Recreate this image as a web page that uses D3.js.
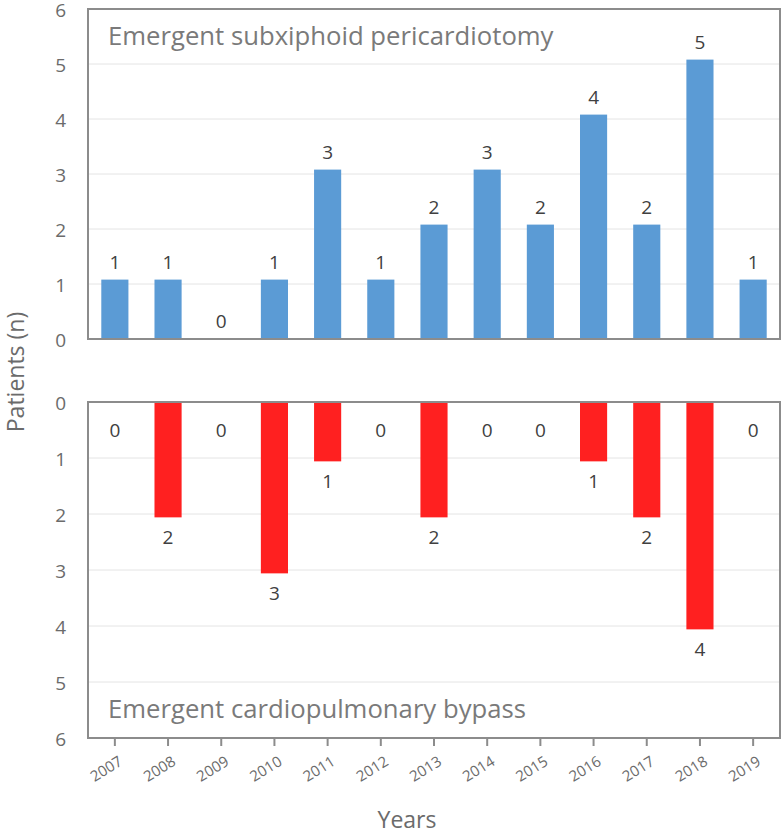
<!DOCTYPE html>
<html><head><meta charset="utf-8">
<script src="https://cdn.jsdelivr.net/npm/d3@7"></script>
<style>body{margin:0;background:#fff}text{font-family:"Open Sans",sans-serif}</style>
</head><body><svg id="c" width="784" height="834"></svg>
<script>
const years = ["2007","2008","2009","2010","2011","2012","2013","2014","2015","2016","2017","2018","2019"];
const topCounts = [1,1,0,1,3,1,2,3,2,4,2,5,1];
const topBars = [1.08,1.08,0,1.08,3.08,1.08,2.08,3.08,2.08,4.08,2.08,5.08,1.08];
const bottomCounts = [0,2,0,3,1,0,2,0,0,1,2,4,0];
const bottomBars = [0,2.06,0,3.06,1.06,0,2.06,0,0,1.06,2.06,4.06,0];
const yTicks = [0,1,2,3,4,5,6];
const topTitle = "Emergent subxiphoid pericardiotomy";
const bottomTitle = "Emergent cardiopulmonary bypass";

const svg = d3.select("#c");
const L = 88, R = 780;
const x = d3.scaleBand().domain(years).range([L, R]).paddingInner(0.49).paddingOuter(0.25);
const yTop = d3.scaleLinear().domain([0,6]).range([339, 9]);
const yBot = d3.scaleLinear().domain([0,6]).range([402, 738]);
const axisCol = "#8c8c8c", gridCol = "#e4e4e4", txtCol = "#6b6b6b", lblCol = "#404040";

function panel(y, counts, bars, color, up, title, titleY) {
  const g = svg.append("g");
  g.selectAll("line.grid").data(yTicks.slice(1,6)).join("line")
    .attr("x1", L).attr("x2", R).attr("y1", d => y(d)).attr("y2", d => y(d))
    .attr("stroke", gridCol).attr("stroke-width", 1);
  g.selectAll("rect.bar").data(years.map((yr,i)=>({yr, v:bars[i], c:counts[i]}))).join("rect")
    .attr("x", d => x(d.yr)).attr("width", x.bandwidth())
    .attr("y", d => Math.min(y(0), y(d.v))).attr("height", d => Math.abs(y(d.v)-y(0)))
    .attr("fill", color);
  g.selectAll("text.lbl").data(years.map((yr,i)=>({yr, v:bars[i], c:counts[i]}))).join("text")
    .attr("x", d => x(d.yr) + x.bandwidth()/2)
    .attr("y", d => up ? y(d.v) - 11 : y(d.v) + (d.v===0 ? 35 : 27))
    .attr("text-anchor","middle").attr("font-size", 19).attr("fill", lblCol)
    .text(d => d.c);
  const [y0, y1] = [y.range()[0], y.range()[1]];
  g.append("rect").attr("x", L).attr("y", Math.min(y0,y1)).attr("width", R-L).attr("height", Math.abs(y1-y0))
    .attr("fill","none").attr("stroke", axisCol).attr("stroke-width", 2);
  g.selectAll("text.yt").data(yTicks).join("text")
    .attr("x", 66).attr("y", d => y(d)).attr("dy","0.42em")
    .attr("text-anchor","end").attr("font-size", 19).attr("fill", txtCol).text(d => d);
  g.append("text").attr("x", 108).attr("y", titleY).attr("font-size", 25.7).attr("fill", "#7a7a7a").text(title);
}
panel(yTop, topCounts, topBars, "#5b9bd5", true, topTitle, 45);
panel(yBot, bottomCounts, bottomBars, "#ff2020", false, bottomTitle, 718);

// x ticks
const xa = svg.append("g");
xa.selectAll("line").data(years).join("line")
  .attr("x1", d => x(d)+x.bandwidth()/2).attr("x2", d => x(d)+x.bandwidth()/2)
  .attr("y1", 738).attr("y2", 746).attr("stroke", axisCol).attr("stroke-width", 2);
xa.selectAll("text").data(years).join("text")
  .attr("transform", d => `translate(${x(d)+x.bandwidth()/2+3},${755}) rotate(-32)`)
  .attr("text-anchor","end").attr("dy","0.72em").attr("font-size", 15).attr("fill", txtCol).text(d => d);

svg.append("text").attr("transform","translate(24,372) rotate(-90)").attr("text-anchor","middle")
  .attr("font-size", 23).attr("fill", txtCol).text("Patients (n)");
svg.append("text").attr("x", 407).attr("y", 828).attr("text-anchor","middle")
  .attr("font-size", 23).attr("fill", txtCol).text("Years");
</script></body></html>
